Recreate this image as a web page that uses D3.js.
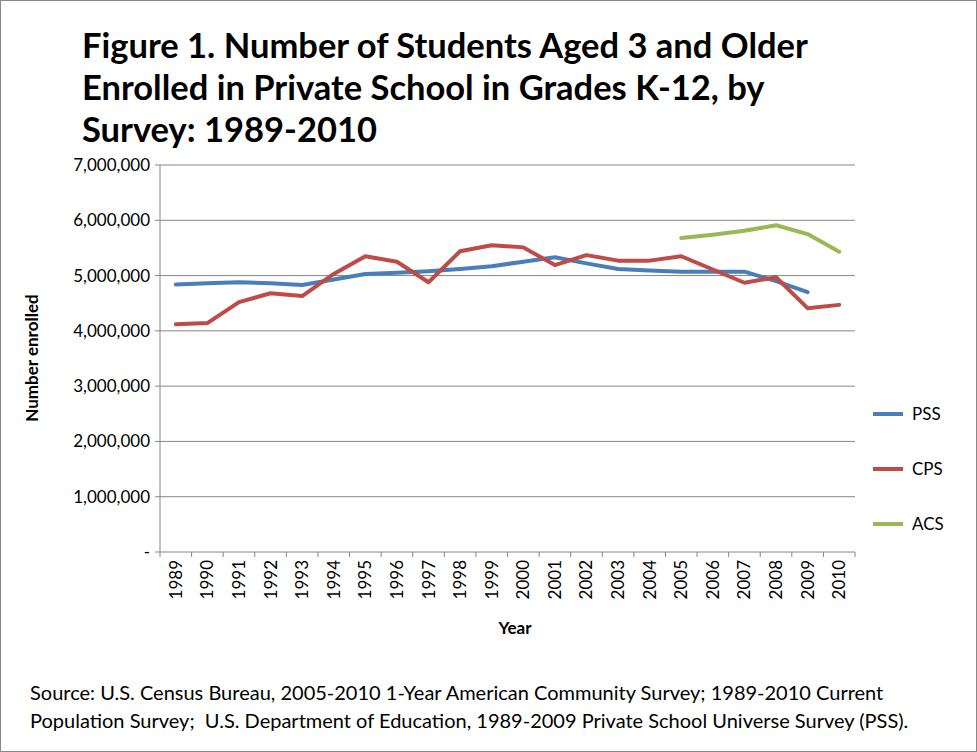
<!DOCTYPE html>
<html><head><meta charset="utf-8">
<script src="https://cdn.jsdelivr.net/npm/d3@7"></script>
<style>body{margin:0;background:#fff}</style></head>
<body><svg id="c" width="977" height="752"></svg>
<script>
const years = ["1989","1990","1991","1992","1993","1994","1995","1996","1997","1998","1999","2000","2001","2002","2003","2004","2005","2006","2007","2008","2009","2010"];
const pss = [4840000,4860000,4880000,4860000,4830000,4930000,5030000,5050000,5080000,5120000,5170000,5250000,5330000,5220000,5120000,5090000,5070000,5070000,5070000,4900000,4700000,null];
const cps = [4120000,4140000,4520000,4680000,4630000,5030000,5350000,5250000,4880000,5440000,5550000,5510000,5190000,5370000,5270000,5270000,5350000,5110000,4870000,4970000,4410000,4470000];
const acs = [null,null,null,null,null,null,null,null,null,null,null,null,null,null,null,null,5680000,5740000,5810000,5910000,5750000,5430000];
const yTicks = [0,1000000,2000000,3000000,4000000,5000000,6000000,7000000];
const seriesNames = ["PSS","CPS","ACS"];
const colors = ["#4a7ebb","#be4b48","#98b954"];

const svg = d3.select("#c");
const font = "Lato, 'Open Sans', sans-serif";
svg.append("rect").attr("x",0.5).attr("y",0.5).attr("width",976).attr("height",751).attr("fill","#fff").attr("stroke","#888");
const L=160,R=855,T=165,B=552;
const x = d3.scalePoint().domain(years).range([L,R]).padding(0.5);
const y = d3.scaleLinear().domain([0,7000000]).range([B,T]);

svg.append("g").selectAll("line").data(yTicks.slice(1)).join("line")
  .attr("x1",L).attr("x2",R).attr("y1",d=>y(d)).attr("y2",d=>y(d)).attr("stroke","#868686");
svg.append("line").attr("x1",L).attr("x2",L).attr("y1",T).attr("y2",B).attr("stroke","#868686");
svg.append("line").attr("x1",L).attr("x2",R).attr("y1",B).attr("y2",B).attr("stroke","#868686");
svg.append("g").selectAll("line").data(yTicks).join("line")
  .attr("x1",L-5).attr("x2",L).attr("y1",d=>y(d)).attr("y2",d=>y(d)).attr("stroke","#868686");
const step = x.step();
svg.append("g").selectAll("line").data(d3.range(years.length+1)).join("line")
  .attr("x1",i=>L+i*step).attr("x2",i=>L+i*step).attr("y1",B).attr("y2",B+5).attr("stroke","#868686");

svg.append("g").selectAll("text").data(yTicks).join("text")
  .attr("x",L-10).attr("y",d=>y(d)+6).attr("text-anchor","end")
  .attr("font-family",font).attr("font-size",17).text(d=>d===0?"-":d3.format(",")(d));
svg.append("g").selectAll("text").data(years).join("text")
  .attr("transform",d=>`translate(${x(d)+6},${B+8}) rotate(-90)`).attr("text-anchor","end")
  .attr("font-family",font).attr("font-size",17).text(d=>d);

const data=[pss,cps,acs];
const line = d3.line().defined(d=>d[1]!=null).x(d=>x(d[0])).y(d=>y(d[1]));
data.forEach((s,i)=>{
  svg.append("path").attr("d",line(years.map((yr,j)=>[yr,s[j]])))
    .attr("fill","none").attr("stroke",colors[i]).attr("stroke-width",4).attr("stroke-linejoin","round").attr("stroke-linecap","round");
});
seriesNames.forEach((n,i)=>{
  const ly=414+i*55;
  svg.append("line").attr("x1",873).attr("x2",903).attr("y1",ly).attr("y2",ly).attr("stroke",colors[i]).attr("stroke-width",4);
  svg.append("text").attr("x",912).attr("y",ly+6).attr("font-family",font).attr("font-size",17).text(n);
});

svg.append("text").attr("x",515).attr("y",634).attr("text-anchor","middle").attr("font-family",font).attr("font-weight","bold").attr("font-size",17).text("Year");
svg.append("text").attr("transform","translate(38,358) rotate(-90)").attr("text-anchor","middle").attr("font-family",font).attr("font-weight","bold").attr("font-size",17).text("Number enrolled");

["Figure 1. Number of Students Aged 3 and Older","Enrolled in Private School in Grades K-12, by","Survey: 1989-2010"].forEach((t,i)=>{
  svg.append("text").attr("x",82).attr("y",58+i*42).attr("font-family",font).attr("font-weight","bold").attr("font-size",34.5).text(t);
});
["Source: U.S. Census Bureau, 2005-2010 1-Year American Community Survey; 1989-2010 Current","Population Survey;  U.S. Department of Education, 1989-2009 Private School Universe Survey (PSS)."].forEach((t,i)=>{
  svg.append("text").attr("x",30).attr("y",700+i*28).attr("font-family",font).attr("font-size",20).attr("xml:space","preserve").text(t);
});
</script></body></html>
